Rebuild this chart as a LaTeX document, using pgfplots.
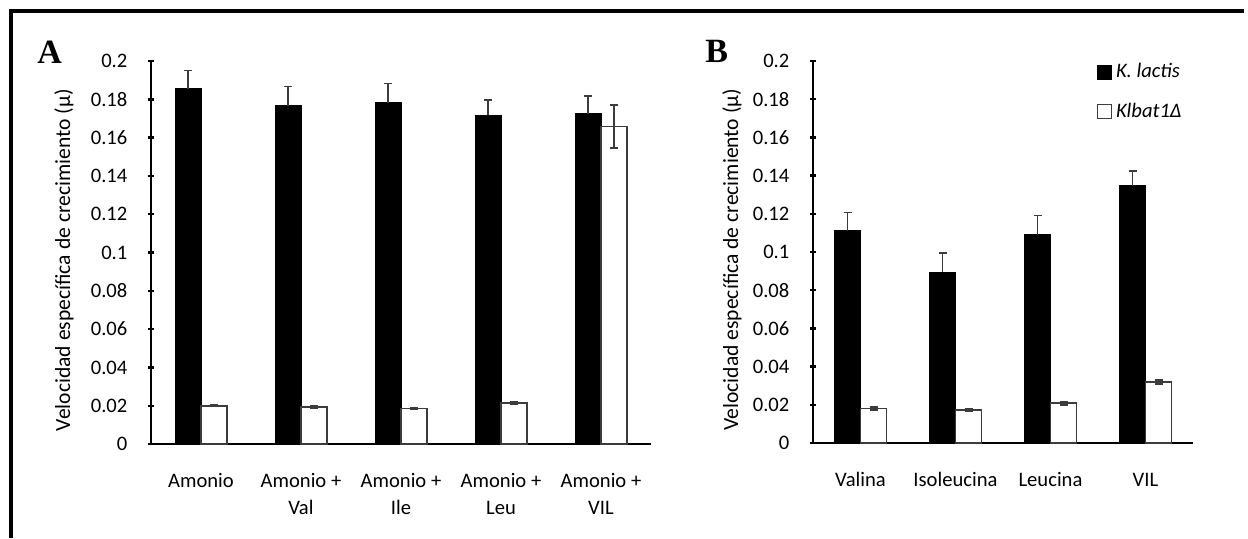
\documentclass[border=0pt]{standalone}
\usepackage{fontspec}
\setmainfont{Carlito}
\newfontfamily\serifbold{Liberation Serif}
\usepackage{pgfplots}
\pgfplotsset{compat=1.18}
\definecolor{ebar}{RGB}{60,60,60}

\pgfplotsset{
  growthaxis/.style={
    scale only axis,
    anchor=south west,
    ybar=0pt, bar width=13pt,
    ymin=0, ymax=0.2,
    ytick={0,0.02,0.04,0.06,0.08,0.1,0.12,0.14,0.16,0.18,0.2},
    scaled y ticks=false,
    yticklabel style={/pgf/number format/fixed, /pgf/number format/precision=2,
      /pgf/number format/assume math mode=true, font=\fontsize{10.3}{12}\selectfont,
      xshift=-6.8pt},
    xtick=data,
    xticklabel style={align=center, anchor=north, font=\fontsize{10.3}{13.5}\selectfont,
      yshift=-7.5pt},
    xtick style={draw=none},
    ytick style={line width=1.2pt, black},
    tick align=outside, major tick length=3pt,
    axis x line=bottom, axis y line=left,
    axis line style={-, line width=1.2pt, black},
    ylabel={Velocidad específica de crecimiento (µ)},
    error bars/y explicit,
    error bars/error bar style={line width=0.8pt, ebar},
    error bars/error mark options={rotate=90, mark size=2pt, line width=0.8pt, ebar},
  },
  blackbar/.style={fill=black, draw=black, line width=0.5pt,
    error bars/y dir=plus,
    legend image code/.code={\draw[fill=black, draw=black] (0pt,-3.5pt) rectangle (7pt,3.5pt);}},
  whitebar/.style={fill=white, draw=ebar, line width=0.8pt,
    error bars/y dir=both,
    legend image code/.code={\draw[fill=white, draw=ebar, line width=0.6pt] (0pt,-3.5pt) rectangle (7pt,3.5pt);}},
}

\begin{document}
\begin{tikzpicture}
\useasboundingbox (0,0) rectangle (624pt,-269pt);
\draw[line width=2pt] (5.7pt,-269pt) -- (5.7pt,-5.7pt) -- (622pt,-5.7pt);

% panel A
\begin{axis}[growthaxis,
  at={(75.5pt,-222pt)}, width=250pt, height=191.5pt,
  xmin=-0.5, xmax=4.5,
  xticklabels={{\strut Amonio\\\mbox{}}, {\strut Amonio +\\Val}, {\strut Amonio +\\Ile},
    {\strut Amonio +\\Leu}, {\strut Amonio +\\VIL}},
  every axis y label/.style={at={([xshift=-43.5pt]axis description cs:0,0.48)}, rotate=90,
    anchor=center, font=\fontsize{10.8}{12}\selectfont},
  ]
\addplot[blackbar] table[x=x, y=y, y error=e] {
x y e
0 0.1855 0.0095
1 0.1767 0.0100
2 0.1782 0.0100
3 0.1716 0.0080
4 0.1725 0.0092
};
\addplot[whitebar] table[x=x, y=y, y error=e] {
x y e
0 0.0200 0.0005
1 0.0193 0.0008
2 0.0185 0.0005
3 0.0214 0.0005
4 0.1658 0.0112
};
\draw[line width=1.2pt] (rel axis cs:0,0) -- ++(-3pt,0);
\end{axis}

% panel B
\begin{axis}[growthaxis,
  at={(406.5pt,-221.5pt)}, width=190pt, height=191pt,
  xmin=-0.5, xmax=3.5,
  xticklabels={{\strut Valina\\\mbox{}}, {\strut Isoleucina\\\mbox{}}, {\strut Leucina\\\mbox{}},
    {\strut VIL\\\mbox{}}},
  every axis y label/.style={at={([xshift=-40.5pt]axis description cs:0,0.48)}, rotate=90,
    anchor=center, font=\fontsize{10.8}{12}\selectfont},
  legend style={at={(rel axis cs:0.73,1.015)}, anchor=north west, draw=none, fill=none,
    font=\fontsize{10.3}{12}\selectfont\itshape, row sep=7pt,
    /tikz/every even column/.append style={column sep=3pt}},
  legend cell align=left,
  ]
\addplot[blackbar] table[x=x, y=y, y error=e] {
x y e
0 0.1111 0.0095
1 0.0894 0.0101
2 0.1091 0.0101
3 0.1347 0.0077
};
\addplot[whitebar] table[x=x, y=y, y error=e] {
x y e
0 0.0180 0.0008
1 0.0173 0.0008
2 0.0208 0.0008
3 0.0319 0.0010
};
\draw[line width=1.2pt] (rel axis cs:0,0) -- ++(-3pt,0);
\legend{K. lactis, Klbat1Δ}
\end{axis}

\node[anchor=base west, inner sep=0pt, font=\serifbold\bfseries\fontsize{17}{20}\selectfont] at (18.5pt,-31.5pt) {A};
\node[anchor=base west, inner sep=0pt, font=\serifbold\bfseries\fontsize{17}{20}\selectfont] at (352.5pt,-31pt) {B};
\end{tikzpicture}
\end{document}
